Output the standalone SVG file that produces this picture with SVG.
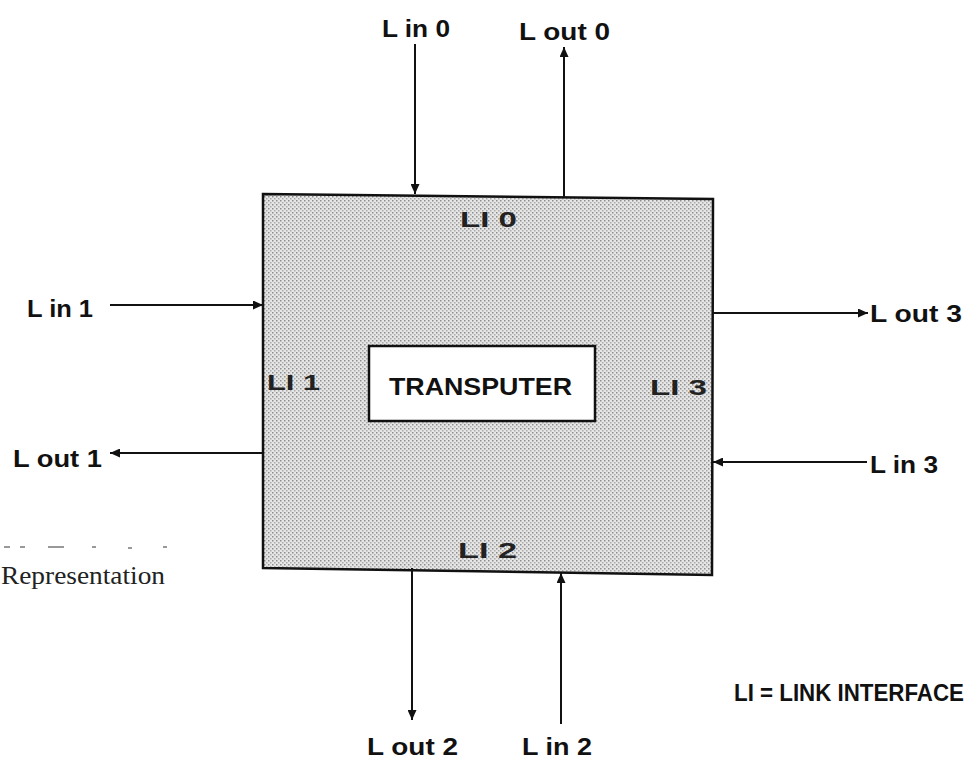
<svg xmlns="http://www.w3.org/2000/svg" width="976" height="764" viewBox="0 0 976 764">
<defs>
<pattern id="stip" width="4" height="4" patternUnits="userSpaceOnUse">
<rect width="4" height="4" fill="#e6e6e6"/>
<rect x="0" y="0" width="1.5" height="1.5" fill="#8c8c8c"/>
<rect x="2" y="2" width="1.5" height="1.5" fill="#a8a8a8"/>
</pattern>
<marker id="ah" markerWidth="10" markerHeight="9" refX="10" refY="4.5" orient="auto" markerUnits="userSpaceOnUse">
<path d="M0,0 L10,4.5 L0,9 Z" fill="#111"/>
</marker>
</defs>
<style>
.lbl{font-family:"Liberation Sans",Arial,sans-serif;font-weight:bold;font-size:24px;fill:#111}
.li{font-family:"Liberation Sans",Arial,sans-serif;font-weight:bold;font-size:22px;fill:#222}
.cn{stroke:#111;stroke-width:2;fill:none}
.frag{fill:#999}
</style>
<rect width="976" height="764" fill="#fff"/>
<g id="chip">
<polygon points="263,194 713,199 712,575 263,568" fill="url(#stip)" stroke="#111" stroke-width="2.5"/>
<text class="li" x="460" y="227" textLength="57" lengthAdjust="spacingAndGlyphs">LI 0</text>
<text class="li" x="267" y="390" textLength="53" lengthAdjust="spacingAndGlyphs">LI 1</text>
<text class="li" x="458" y="558" textLength="59" lengthAdjust="spacingAndGlyphs">LI 2</text>
<text class="li" x="650" y="395" textLength="57" lengthAdjust="spacingAndGlyphs">LI 3</text>
</g>
<g id="transputer">
<rect x="369" y="346" width="226" height="75" fill="#fff" stroke="#111" stroke-width="2.5"/>
<text class="lbl" x="389" y="395" font-size="25" textLength="183" lengthAdjust="spacingAndGlyphs">TRANSPUTER</text>
</g>
<g id="connectors">
<line class="cn" x1="415" y1="44" x2="415" y2="194" marker-end="url(#ah)"/>
<line class="cn" x1="564" y1="197" x2="564" y2="47" marker-end="url(#ah)"/>
<line class="cn" x1="110" y1="305" x2="263" y2="305" marker-end="url(#ah)"/>
<line class="cn" x1="263" y1="453" x2="110" y2="453" marker-end="url(#ah)"/>
<line class="cn" x1="713" y1="313" x2="868" y2="313" marker-end="url(#ah)"/>
<line class="cn" x1="867" y1="462" x2="713" y2="462" marker-end="url(#ah)"/>
<line class="cn" x1="412" y1="568" x2="412" y2="720" marker-end="url(#ah)"/>
<line class="cn" x1="561" y1="724" x2="561" y2="573" marker-end="url(#ah)"/>
</g>
<g id="labels">
<text class="lbl" x="382" y="37" textLength="68" lengthAdjust="spacingAndGlyphs">L in 0</text>
<text class="lbl" x="519" y="40" textLength="91" lengthAdjust="spacingAndGlyphs">L out 0</text>
<text class="lbl" x="27" y="317" textLength="66" lengthAdjust="spacingAndGlyphs">L in 1</text>
<text class="lbl" x="13" y="467" textLength="89" lengthAdjust="spacingAndGlyphs">L out 1</text>
<text class="lbl" x="870" y="322" textLength="92" lengthAdjust="spacingAndGlyphs">L out 3</text>
<text class="lbl" x="870" y="473" textLength="68" lengthAdjust="spacingAndGlyphs">L in 3</text>
<text class="lbl" x="367" y="755" textLength="91" lengthAdjust="spacingAndGlyphs">L out 2</text>
<text class="lbl" x="522" y="755" textLength="70" lengthAdjust="spacingAndGlyphs">L in 2</text>
<text class="lbl" x="734" y="701" font-size="20" textLength="230" lengthAdjust="spacingAndGlyphs">LI = LINK INTERFACE</text>
</g>
<g id="caption">
<rect class="frag" x="4" y="546" width="6" height="2"/>
<rect class="frag" x="20" y="546" width="5" height="2"/>
<rect class="frag" x="48" y="546" width="16" height="2"/>
<rect class="frag" x="92" y="546" width="4" height="2"/>
<rect class="frag" x="128" y="547" width="4" height="2"/>
<rect class="frag" x="163" y="546" width="4" height="2"/>
<text x="1" y="584" font-family="'Liberation Serif','Times New Roman',serif" font-size="25" fill="#222" textLength="164" lengthAdjust="spacingAndGlyphs">Representation</text>
</g>
</svg>
